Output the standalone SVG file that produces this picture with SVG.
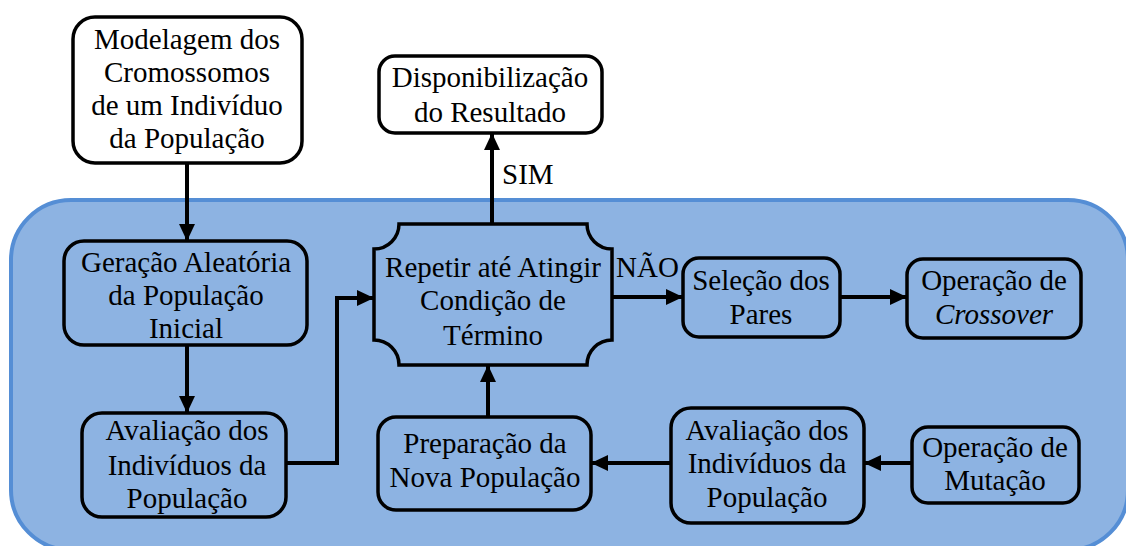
<svg xmlns="http://www.w3.org/2000/svg" width="1126" height="546" viewBox="0 0 1126 546">
<defs>
<marker id="ah" markerUnits="userSpaceOnUse" markerWidth="17" markerHeight="16" refX="17" refY="8" orient="auto">
<path d="M0,0 L17,8 L0,16 z" fill="#000"/>
</marker>
</defs>
<rect x="11" y="200" width="1117" height="350" rx="60" ry="60" fill="#8DB3E2" stroke="#558ED5" stroke-width="4"/>

<g id="connectors" fill="none" stroke="#000" stroke-width="4">
<path d="M187,163 V241" marker-end="url(#ah)"/>
<path d="M187,345 V413" marker-end="url(#ah)"/>
<path d="M286,463 H337 V298 H374" marker-end="url(#ah)"/>
<path d="M492,224 V133" marker-end="url(#ah)"/>
<path d="M612,297 H683" marker-end="url(#ah)"/>
<path d="M840,297 H907" marker-end="url(#ah)"/>
<path d="M912,463 H864" marker-end="url(#ah)"/>
<path d="M671,463 H591" marker-end="url(#ah)"/>
<path d="M488,417 V365" marker-end="url(#ah)"/>
</g>
<text x="502" y="184" font-family="Liberation Serif" font-size="29">SIM</text>
<text x="616" y="277" font-family="Liberation Serif" font-size="29">NÃO</text>

<g id="modelagem">
<rect x="73" y="17" width="229" height="146" rx="22" fill="#fff" stroke="#000" stroke-width="3.5"/>
<text x="187" y="49" font-family="Liberation Serif" font-size="29" text-anchor="middle">Modelagem dos</text>
<text x="187" y="82" font-family="Liberation Serif" font-size="29" text-anchor="middle">Cromossomos</text>
<text x="187" y="115" font-family="Liberation Serif" font-size="29" text-anchor="middle">de um Indivíduo</text>
<text x="187" y="148" font-family="Liberation Serif" font-size="29" text-anchor="middle">da População</text>
</g>

<g id="disponibilizacao">
<rect x="379" y="56" width="223" height="77" rx="16" fill="#fff" stroke="#000" stroke-width="3.5"/>
<text x="490" y="87" font-family="Liberation Serif" font-size="29" text-anchor="middle">Disponibilização</text>
<text x="490" y="122" font-family="Liberation Serif" font-size="29" text-anchor="middle">do Resultado</text>
</g>

<g id="geracao">
<rect x="64" y="241" width="243" height="104" rx="20" fill="#8DB3E2" stroke="#000" stroke-width="3.5"/>
<text x="186" y="272" font-family="Liberation Serif" font-size="29" text-anchor="middle">Geração Aleatória</text>
<text x="186" y="305" font-family="Liberation Serif" font-size="29" text-anchor="middle">da População</text>
<text x="186" y="338" font-family="Liberation Serif" font-size="29" text-anchor="middle">Inicial</text>
</g>

<g id="avaliacao1">
<rect x="82" y="413" width="204" height="104" rx="20" fill="#8DB3E2" stroke="#000" stroke-width="3.5"/>
<text x="187" y="440" font-family="Liberation Serif" font-size="29" text-anchor="middle">Avaliação dos</text>
<text x="187" y="475" font-family="Liberation Serif" font-size="29" text-anchor="middle">Indivíduos da</text>
<text x="187" y="508" font-family="Liberation Serif" font-size="29" text-anchor="middle">População</text>
</g>

<g id="repetir">
<path d="M399,224 H587 A25,25 0 0 0 612,249 V340 A25,25 0 0 0 587,365 H399 A25,25 0 0 0 374,340 V249 A25,25 0 0 0 399,224 Z" fill="#8DB3E2" stroke="#000" stroke-width="3.5"/>
<text x="493" y="277" font-family="Liberation Serif" font-size="29" text-anchor="middle">Repetir até Atingir</text>
<text x="493" y="310" font-family="Liberation Serif" font-size="29" text-anchor="middle">Condição de</text>
<text x="493" y="345" font-family="Liberation Serif" font-size="29" text-anchor="middle">Término</text>
</g>

<g id="selecao">
<rect x="683" y="258" width="157" height="79" rx="16" fill="#8DB3E2" stroke="#000" stroke-width="3.5"/>
<text x="761" y="290" font-family="Liberation Serif" font-size="29" text-anchor="middle">Seleção dos</text>
<text x="761" y="324" font-family="Liberation Serif" font-size="29" text-anchor="middle">Pares</text>
</g>

<g id="crossover">
<rect x="907" y="259" width="174" height="79" rx="16" fill="#8DB3E2" stroke="#000" stroke-width="3.5"/>
<text x="994" y="290" font-family="Liberation Serif" font-size="29" text-anchor="middle">Operação de</text>
<text x="994" y="324" font-family="Liberation Serif" font-size="29" text-anchor="middle" font-style="italic">Crossover</text>
</g>

<g id="mutacao">
<rect x="912" y="427" width="167" height="76" rx="16" fill="#8DB3E2" stroke="#000" stroke-width="3.5"/>
<text x="995" y="457" font-family="Liberation Serif" font-size="29" text-anchor="middle">Operação de</text>
<text x="995" y="490" font-family="Liberation Serif" font-size="29" text-anchor="middle">Mutação</text>
</g>

<g id="avaliacao2">
<rect x="671" y="408" width="193" height="115" rx="20" fill="#8DB3E2" stroke="#000" stroke-width="3.5"/>
<text x="767" y="440" font-family="Liberation Serif" font-size="29" text-anchor="middle">Avaliação dos</text>
<text x="767" y="473" font-family="Liberation Serif" font-size="29" text-anchor="middle">Indivíduos da</text>
<text x="767" y="507" font-family="Liberation Serif" font-size="29" text-anchor="middle">População</text>
</g>

<g id="preparacao">
<rect x="378" y="417" width="213" height="93" rx="18" fill="#8DB3E2" stroke="#000" stroke-width="3.5"/>
<text x="485" y="453" font-family="Liberation Serif" font-size="29" text-anchor="middle">Preparação da</text>
<text x="485" y="487" font-family="Liberation Serif" font-size="29" text-anchor="middle">Nova População</text>
</g>
</svg>
